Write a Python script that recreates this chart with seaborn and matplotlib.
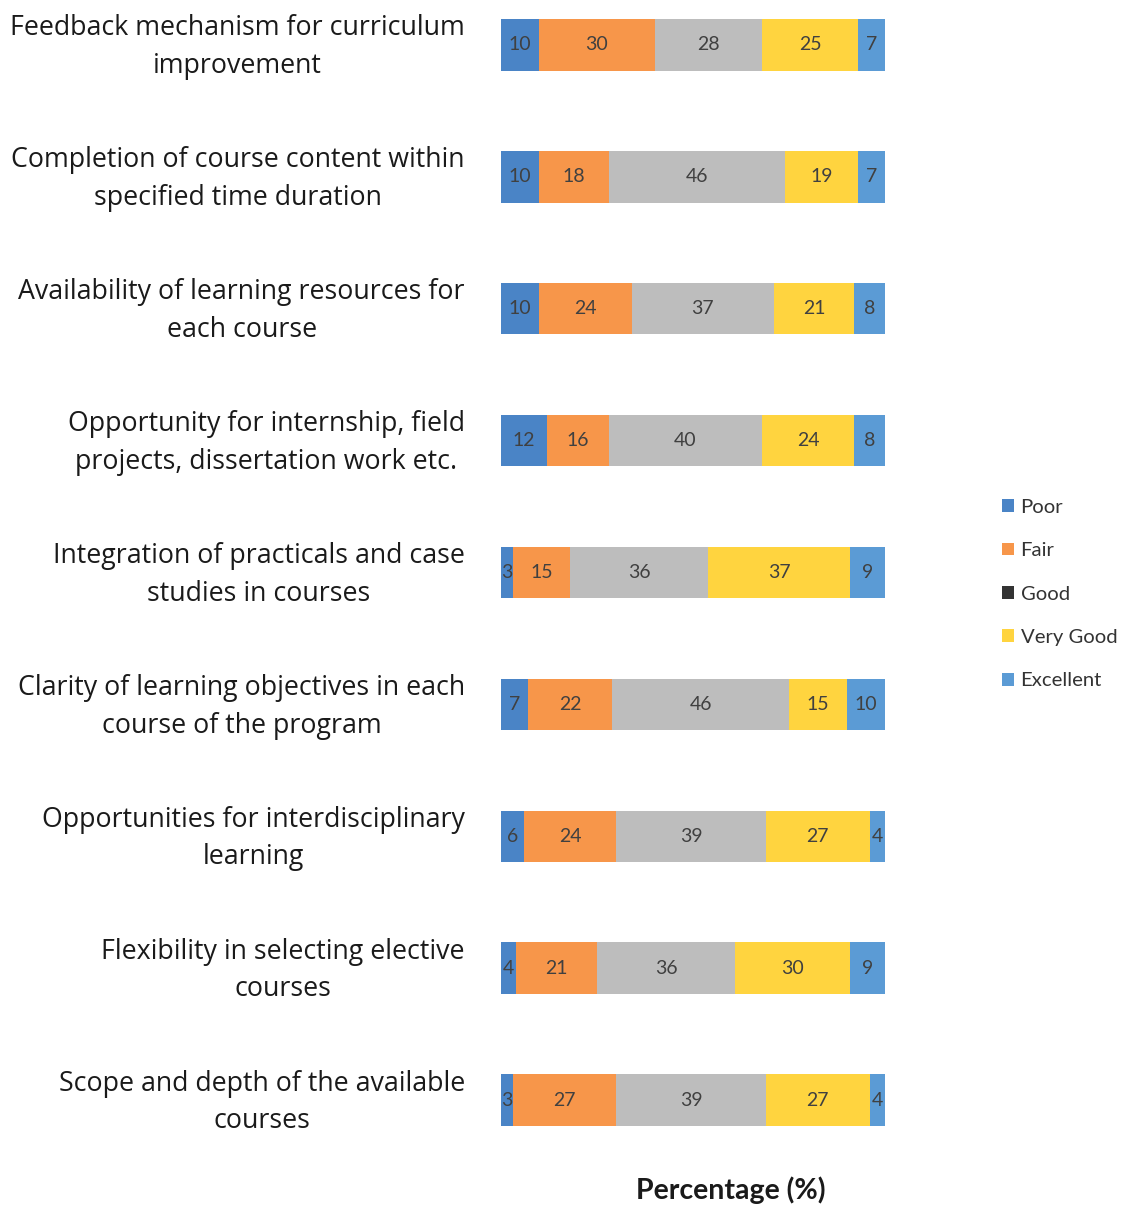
import numpy as np
import pandas as pd
import matplotlib
matplotlib.use("Agg")
import matplotlib.pyplot as plt
import matplotlib.transforms as mtransforms
from matplotlib.patches import Patch
import seaborn as sns

sns.set_style("white")
plt.rcParams['font.family'] = ['Open Sans', 'DejaVu Sans']

# survey items (top to bottom)
items = [
    "Feedback mechanism for curriculum\nimprovement",
    "Completion of course content within\nspecified time duration",
    "Availability of learning resources for\neach course",
    "Opportunity for internship, field\nprojects, dissertation work etc.",
    "Integration of practicals and case\nstudies in courses",
    "Clarity of learning objectives in each\ncourse of the program",
    "Opportunities for interdisciplinary\nlearning",
    "Flexibility in selecting elective\ncourses",
    "Scope and depth of the available\ncourses",
]
ratings = ["Poor", "Fair", "Good", "Very Good", "Excellent"]
poor = [10, 10, 10, 12, 3, 7, 6, 4, 3]
fair = [30, 18, 24, 16, 15, 22, 24, 21, 27]
good = [28, 46, 37, 40, 36, 46, 39, 36, 39]
very_good = [25, 19, 21, 24, 37, 15, 27, 30, 27]
excellent = [7, 7, 8, 8, 9, 10, 4, 9, 4]

colors = ["#4A84C6", "#F7964A", "#BDBDBD", "#FFD43F", "#5B9BD5"]
legend_colors = ["#4A84C6", "#F7964A", "#333333", "#FFD43F", "#5B9BD5"]

df = pd.DataFrame({"item": items, "Poor": poor, "Fair": fair, "Good": good,
                   "Very Good": very_good, "Excellent": excellent})
cum = df[ratings].cumsum(axis=1)

fig = plt.figure(figsize=(11.21, 12.05), dpi=100)
W, H = 1121, 1205
ax = fig.add_axes([501 / W, 1 - 1135 / H, (885 - 501) / W, 1125 / H])

# draw cumulative bars from the longest down so each covers the previous
for r, c in zip(ratings[::-1], colors[::-1]):
    sns.barplot(x=cum[r], y=df["item"], color=c, orient="h", width=0.39,
                edgecolor="none", linewidth=0, saturation=1, ax=ax)

# value labels in the middle of each segment
for i in range(len(items)):
    left = 0
    for r in ratings:
        v = df.loc[i, r]
        ax.text(left + v / 2, i, str(v), ha="center", va="center",
                fontsize=14, color="#404040", family=["Lato", "DejaVu Sans"])
        left += v

ax.set_xlim(0, 100)
ax.set_ylim(8.265, -0.265)
ax.set_xlabel("")
ax.set_ylabel("")
ax.set_xticks([])
for s in ax.spines.values():
    s.set_visible(False)
ax.tick_params(axis="y", length=0, pad=26)
shift = mtransforms.ScaledTranslation(0, 6 / 100, fig.dpi_scale_trans)
for lab in ax.get_yticklabels():
    lab.set_fontsize(19.3)
    lab.set_multialignment("center")
    lab.set_color("#1a1a1a")
    lab.set_linespacing(1.46)
    lab.set_transform(lab.get_transform() + shift)

handles = [Patch(facecolor=c, edgecolor="none") for c in legend_colors]
fig.legend(handles, ratings, loc="center left", bbox_to_anchor=(984 / W, 1 - 594 / H),
           frameon=False, handlelength=0.6, handleheight=0.6,
           handletextpad=0.3, labelspacing=1.3, labelcolor="#333333",
           prop={"family": ["Lato", "DejaVu Sans"], "size": 14.6})

fig.text(731 / W, 1 - 1190 / H, "Percentage (%)", ha="center", va="center",
         fontsize=20.5, fontweight="bold", color="#1a1a1a", family=["Lato", "DejaVu Sans"])

plt.savefig("out.png", dpi=100)
